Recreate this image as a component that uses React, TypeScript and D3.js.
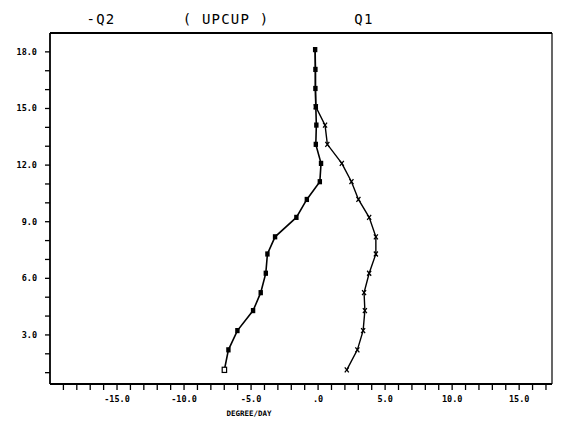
import React from "react";
import * as d3 from "d3";

// heights of the sounding levels (axis units)
const levels = [1.15, 2.21, 3.23, 4.29, 5.24, 6.27, 7.29, 8.2, 9.23, 10.18, 11.12, 12.09, 13.1, 14.12, 15.09, 16.06, 17.07, 18.12];
// -Q2 profile (degree/day), bottom to top
const q2Values = [-6.99, -6.69, -6.02, -4.85, -4.28, -3.9, -3.78, -3.21, -1.62, -0.84, 0.13, 0.22, -0.17, -0.13, -0.17, -0.2, -0.2, -0.22];
// Q1 profile (degree/day), bottom to top
const q1Values = [2.14, 2.93, 3.36, 3.49, 3.43, 3.81, 4.31, 4.31, 3.81, 3.01, 2.49, 1.77, 0.69, 0.52, -0.17, -0.2, -0.2, -0.22];

const xLabelTicks = [-15, -10, -5, 0, 5, 10, 15];
const yLabelTicks = [3, 6, 9, 12, 15, 18];
const titleParts = [
  { text: "-Q2", at: 101 },
  { text: "( UPCUP )", at: 226 },
  { text: "Q1", at: 364 },
];

const W = 582;
const H = 423;
const margin = { top: 33, right: 30, bottom: 39, left: 50 };

const fmt = (v: number) => (v === 0 ? ".0" : v.toFixed(1));

export default function App() {
  const x = d3.scaleLinear().domain([-20, 17.45]).range([margin.left, W - margin.right]);
  const y = d3.scaleLinear().domain([0.4, 19.0]).range([H - margin.bottom, margin.top]);

  const line = d3
    .line<[number, number]>()
    .x((d) => x(d[0]))
    .y((d) => y(d[1]));

  const q2 = q2Values.map((v, i) => [v, levels[i]] as [number, number]);
  const q1 = q1Values.map((v, i) => [v, levels[i]] as [number, number]);

  const xMinor = d3.range(-19, 18, 1);
  const yMinor = d3.range(1, 19, 1);

  const x0 = margin.left;
  const x1 = W - margin.right;
  const y0 = H - margin.bottom;
  const y1 = margin.top;

  const mono = "'DejaVu Sans Mono', 'Liberation Mono', monospace";

  return (
    <svg
      width={W}
      height={H}
      style={{ position: "fixed", left: 0, top: 0, background: "#fff" }}
    >
      <rect width={W} height={H} fill="#fff" />

      {/* title */}
      {titleParts.map((t) => (
        <text
          key={t.text}
          x={t.at}
          y={24}
          textAnchor="middle"
          fontFamily={mono}
          fontSize={14}
          letterSpacing={1.2}
          fill="#000"
        >
          {t.text}
        </text>
      ))}

      {/* frame */}
      <line x1={x0} x2={x1} y1={y1} y2={y1} stroke="#000" strokeWidth={2} />
      <line x1={x1} x2={x1} y1={y1} y2={y0} stroke="#000" strokeWidth={1.2} />
      <line x1={x0} x2={x0} y1={y1} y2={y0} stroke="#000" strokeWidth={1.8} />
      <line x1={x0} x2={x1} y1={y0} y2={y0} stroke="#000" strokeWidth={1.8} />

      {/* x ticks */}
      {xMinor.map((v) => (
        <line key={"xt" + v} x1={x(v)} x2={x(v)} y1={y0} y2={y0 + 6} stroke="#000" strokeWidth={1.3} />
      ))}
      {xLabelTicks.map((v) => (
        <text
          key={"xl" + v}
          x={x(v)}
          y={402}
          textAnchor="middle"
          fontFamily={mono}
          fontWeight="bold"
          fontSize={8.5}
          fill="#000"
        >
          {fmt(v)}
        </text>
      ))}
      <text
        x={249}
        y={416}
        textAnchor="middle"
        fontFamily={mono}
        fontWeight="bold"
        fontSize={7.5}
        fill="#000"
      >
        DEGREE/DAY
      </text>

      {/* y ticks */}
      {yMinor.map((v) => (
        <line key={"yt" + v} x1={x0 - 5} x2={x0} y1={y(v)} y2={y(v)} stroke="#000" strokeWidth={1.3} />
      ))}
      {yLabelTicks.map((v) => (
        <text
          key={"yl" + v}
          x={37}
          y={y(v) + 3}
          textAnchor="end"
          fontFamily={mono}
          fontWeight="bold"
          fontSize={8.5}
          fill="#000"
        >
          {fmt(v)}
        </text>
      ))}

      {/* profiles */}
      <path d={line(q2) ?? ""} fill="none" stroke="#000" strokeWidth={1.6} />
      <path d={line(q1) ?? ""} fill="none" stroke="#000" strokeWidth={1.4} />

      {q2.map((d, i) => (
        <rect
          key={"q2" + i}
          x={x(d[0]) - 2.2}
          y={y(d[1]) - 2.6}
          width={4.4}
          height={5.2}
          fill={i === 0 ? "#fff" : "#000"}
          stroke="#000"
          strokeWidth={i === 0 ? 1.2 : 0}
        />
      ))}
      {q1.slice(0, 15).map((d, i) => {
        const cx = x(d[0]);
        const cy = y(d[1]);
        return (
          <path
            key={"q1" + i}
            d={`M${cx - 2},${cy - 2.5}L${cx + 2},${cy + 2.5}M${cx + 2},${cy - 2.5}L${cx - 2},${cy + 2.5}`}
            stroke="#000"
            strokeWidth={1.3}
          />
        );
      })}
    </svg>
  );
}
